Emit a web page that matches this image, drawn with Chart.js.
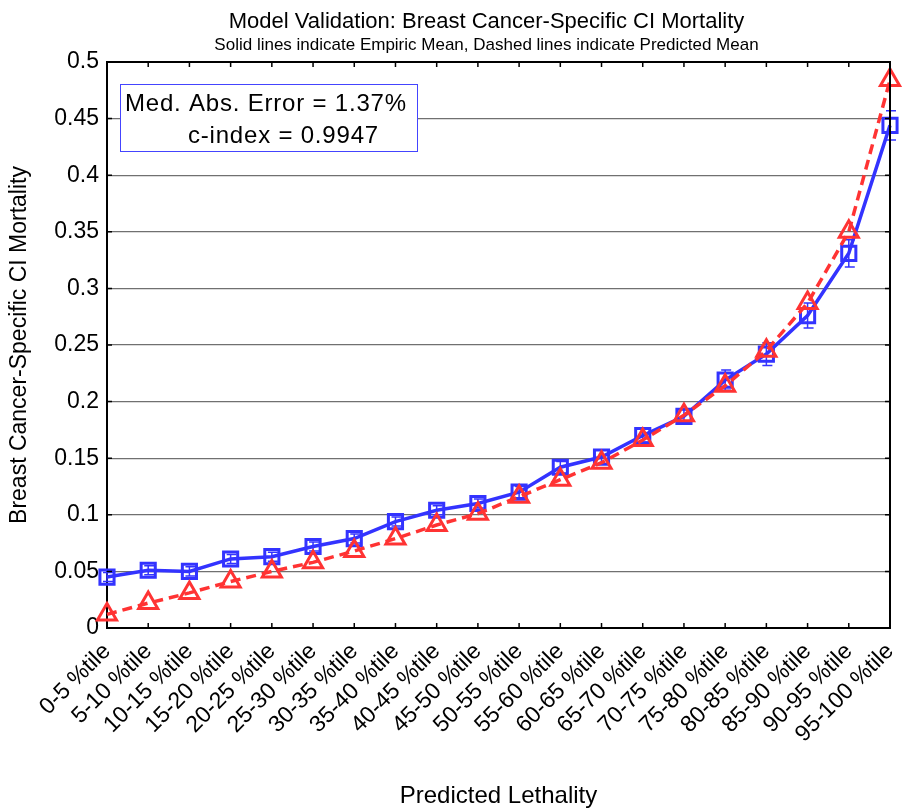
<html>
<head>
	<script src="https://cdn.jsdelivr.net/npm/chart.js@4.4.0/dist/chart.umd.min.js"></script>
	<style>
		body { margin:0; background:#fff; }
		#holder { width:904px; height:811px; }
	</style>
</head>
<body>
	<div id="holder"><canvas id="validationChart" width="904" height="811"></canvas></div>
<script>
	// Percentile bins of predicted lethality
	let bins = ['0-5 %tile', '5-10 %tile', '10-15 %tile', '15-20 %tile', '20-25 %tile',
		'25-30 %tile', '30-35 %tile', '35-40 %tile', '40-45 %tile', '45-50 %tile',
		'50-55 %tile', '55-60 %tile', '60-65 %tile', '65-70 %tile', '70-75 %tile',
		'75-80 %tile', '80-85 %tile', '85-90 %tile', '90-95 %tile', '95-100 %tile'];

	// Empiric mean (solid) with its error half-width, predicted mean (dashed)
	let empiricMean = [0.045, 0.051, 0.050, 0.061, 0.063, 0.072, 0.079, 0.094, 0.104, 0.110,
		0.120, 0.142, 0.151, 0.170, 0.187, 0.219, 0.242, 0.276, 0.331, 0.444];
	let empiricErr = [0.004, 0.004, 0.004, 0.004, 0.004, 0.004, 0.004, 0.004, 0.004, 0.004,
		0.005, 0.005, 0.006, 0.006, 0.006, 0.009, 0.010, 0.011, 0.012, 0.013];
	let predictedMean = [0.012, 0.022, 0.031, 0.041, 0.050, 0.058, 0.068, 0.079, 0.091, 0.101,
		0.116, 0.131, 0.146, 0.166, 0.188, 0.214, 0.245, 0.287, 0.350, 0.484];

	let yTicks = [0, 0.05, 0.1, 0.15, 0.2, 0.25, 0.3, 0.35, 0.4, 0.45, 0.5];
	let yTickLabels = ['0', '0.05', '0.1', '0.15', '0.2', '0.25', '0.3', '0.35', '0.4', '0.45', '0.5'];

	let titleText = 'Model Validation: Breast Cancer-Specific CI Mortality';
	let subtitleText = 'Solid lines indicate Empiric Mean, Dashed lines indicate Predicted Mean';
	let statLines = ['Med. Abs. Error = 1.37%', 'c-index = 0.9947'];

	const FONT = "'Liberation Sans', Arial, sans-serif";
	const BLUE = 'rgb(51,51,255)';
	const RED = 'rgb(255,51,51)';
	const TICK = 5;

	// Frame, inward ticks, error bars, stats box and titles
	const matlabLook = {
		id: 'matlabLook',
		beforeDatasetsDraw(chart) {
			let ctx = chart.ctx, x = chart.scales.x, y = chart.scales.y;
			ctx.save();
			ctx.strokeStyle = BLUE; ctx.lineWidth = 1.5;
			empiricMean.forEach((v, i) => {
				let px = x.getPixelForValue(i);
				let top = y.getPixelForValue(v + empiricErr[i]);
				let bot = y.getPixelForValue(v - empiricErr[i]);
				ctx.beginPath();
				ctx.moveTo(px, top); ctx.lineTo(px, bot);
				ctx.moveTo(px - 4, top); ctx.lineTo(px + 6, top);
				ctx.moveTo(px - 4, bot); ctx.lineTo(px + 6, bot);
				ctx.stroke();
			});
			ctx.restore();
		},
		afterDatasetsDraw(chart) {
			let ctx = chart.ctx, a = chart.chartArea;
			let x = chart.scales.x, y = chart.scales.y;
			ctx.save();

			// top and right edges of the box
			ctx.strokeStyle = '#000'; ctx.lineWidth = 2;
			ctx.beginPath();
			ctx.moveTo(a.left, a.top); ctx.lineTo(a.right, a.top); ctx.lineTo(a.right, a.bottom);
			ctx.stroke();

			// inward ticks on all four sides
			ctx.lineWidth = 1.5;
			ctx.beginPath();
			bins.forEach((b, i) => {
				let px = x.getPixelForValue(i);
				ctx.moveTo(px, a.bottom); ctx.lineTo(px, a.bottom - TICK);
				ctx.moveTo(px, a.top); ctx.lineTo(px, a.top + TICK);
			});
			yTicks.forEach(v => {
				let py = y.getPixelForValue(v);
				ctx.moveTo(a.left, py); ctx.lineTo(a.left + TICK, py);
				ctx.moveTo(a.right, py); ctx.lineTo(a.right - TICK, py);
			});
			ctx.stroke();

			// stats box
			let bx = a.left + 13, by = a.top + 22, bw = 297, bh = 67;
			ctx.fillStyle = '#fff';
			ctx.fillRect(bx, by, bw, bh);
			ctx.strokeStyle = '#4444ff'; ctx.lineWidth = 1;
			ctx.strokeRect(bx + 0.5, by + 0.5, bw, bh);
			ctx.fillStyle = '#000';
			ctx.font = '24px ' + FONT;
			ctx.letterSpacing = '0.8px';
			ctx.textBaseline = 'alphabetic';
			ctx.textAlign = 'left';
			ctx.fillText(statLines[0], bx + 5, by + 27);
			ctx.fillText(statLines[1], bx + 68, by + 59);
			ctx.letterSpacing = '0px';

			// titles
			let cx = (a.left + a.right) / 2;
			ctx.textAlign = 'center';
			ctx.font = '22px ' + FONT;
			ctx.fillText(titleText, cx - 12, 28);
			ctx.font = '17px ' + FONT;
			ctx.fillText(subtitleText, cx - 12, 50);
			ctx.restore();
		}
	};

	let ctx = document.getElementById('validationChart').getContext('2d');
	let chart = new Chart(ctx, {
		type: 'line',
		data: {
			labels: bins,
			datasets: [
				{
					label: 'Empiric Mean',
					data: empiricMean,
					order: 2,
					borderColor: BLUE,
					borderWidth: 3.5,
					pointStyle: 'rect',
					pointRadius: 10,
					pointBorderWidth: 3,
					pointBorderColor: BLUE,
					pointBackgroundColor: 'rgba(0,0,0,0)',
					tension: 0,
					clip: false
				},
				{
					label: 'Predicted Mean',
					data: predictedMean,
					order: 1,
					borderColor: RED,
					borderWidth: 3.5,
					borderDash: [10, 6],
					pointStyle: 'triangle',
					pointRadius: 11,
					pointBorderWidth: 3,
					pointBorderColor: RED,
					pointBackgroundColor: 'rgba(0,0,0,0)',
					tension: 0,
					clip: false
				}
			]
		},
		options: {
			responsive: false,
			animation: false,
			devicePixelRatio: 1,
			layout: { padding: { top: 62, right: 13, left: 0, bottom: 0 } },
			plugins: { legend: { display: false }, tooltip: { enabled: false } },
			scales: {
				x: {
					afterFit: s => { s.height = 183; s.paddingLeft = 0; s.paddingRight = 0; },
					ticks: {
						autoSkip: false, maxRotation: 45, minRotation: 45,
						color: '#000', padding: 10,
						font: { family: FONT, size: 23 }
					},
					grid: { display: false, drawTicks: false },
					border: { display: true, color: '#000', width: 2 },
					title: {
						display: true, text: 'Predicted Lethality', color: '#000',
						font: { family: FONT, size: 24 },
						padding: { top: 0, bottom: 0 }
					}
				},
				y: {
					min: 0, max: 0.5,
					afterBuildTicks: s => { s.ticks = yTicks.map(v => ({ value: v })); },
					afterFit: s => { s.width = 107; },
					ticks: {
						color: '#000', padding: 8,
						font: { family: FONT, size: 23 },
						callback: v => yTickLabels[yTicks.indexOf(v)]
					},
					grid: {
						drawTicks: false, lineWidth: 1.3,
						color: c => (c.tick && c.tick.value > 0 && c.tick.value < 0.5) ? '#707070' : 'rgba(0,0,0,0)'
					},
					border: { display: true, color: '#000', width: 2 },
					title: {
						display: true, text: 'Breast Cancer-Specific CI Mortality', color: '#000',
						font: { family: FONT, size: 23 },
						padding: { top: 6, bottom: 0 }
					}
				}
			}
		},
		plugins: [matlabLook]
	});
</script>
</body>
</html>
